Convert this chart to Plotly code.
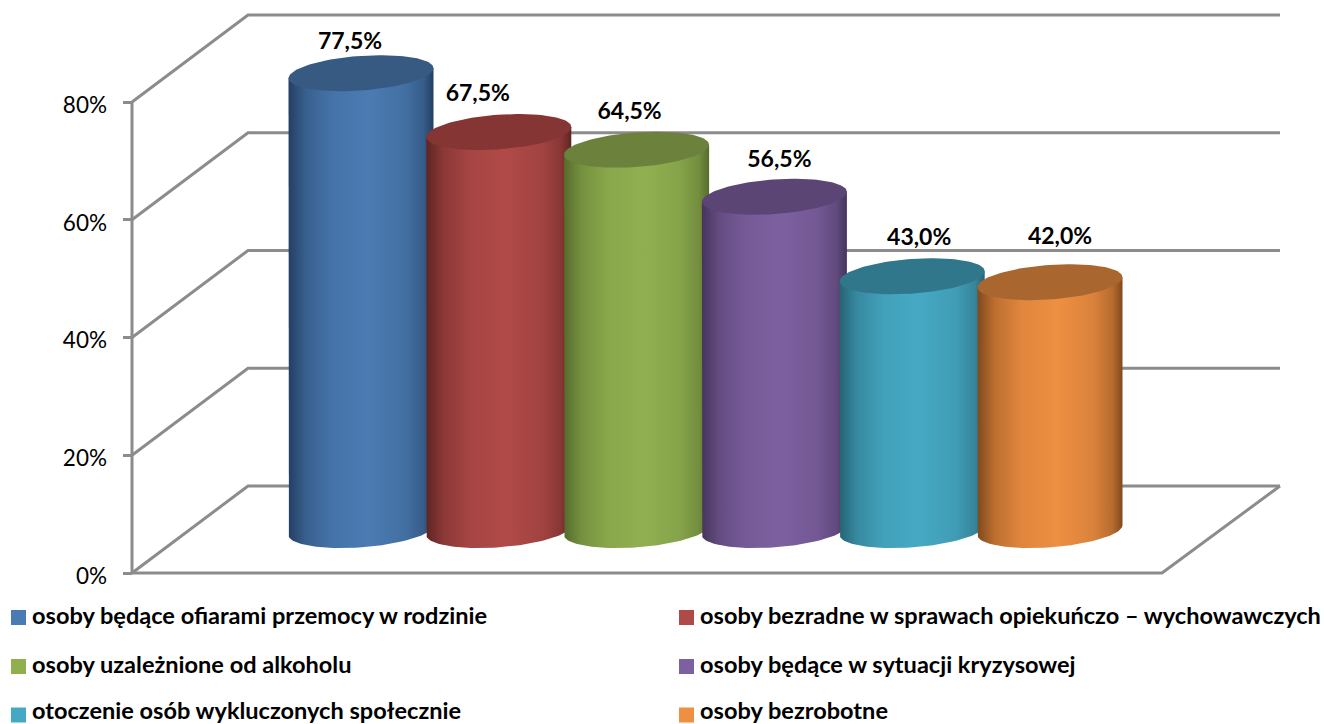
import numpy as np
import plotly.graph_objects as go

# ---- data ----
categories = ["osoby będące ofiarami przemocy w rodzinie",
              "osoby bezradne w sprawach opiekuńczo – wychowawczych",
              "osoby uzależnione od alkoholu",
              "osoby będące w sytuacji kryzysowej",
              "otoczenie osób wykluczonych społecznie",
              "osoby bezrobotne"]
values = [77.5, 67.5, 64.5, 56.5, 43.0, 42.0]
labels = ["77,5%", "67,5%", "64,5%", "56,5%", "43,0%", "42,0%"]
centre_colors = ["#4a7bb2", "#b04a48", "#90b050", "#7d60a0", "#46a9c4", "#ee8f42"]
edge_colors = ["#243f63", "#5f2523", "#566c2c", "#46345c", "#266475", "#80491d"]
top_colors = ["#375a82", "#843534", "#6b813c", "#5b4575", "#31778c", "#a9672f"]
tick_values = [0, 20, 40, 60, 80]
label_dx = [-11, -21, -7, 5, 7, 10]
label_dy = [12.5, 13.7, 13.6, 13.5, 13.7, 14.9]

# ---- layout constants (pixels of the 1324x724 page) ----
W, H = 1324, 724
ZERO_PX, PX_PER_PCT = 573.0, 5.8875
GRID = "#8c8c8c"
FONT = "Lato"
LEFT, FRONT_RIGHT, BACK_LEFT, BACK_RIGHT = 132, 1162, 248, 1280
DEPTH = 87 / PX_PER_PCT
CX0, PITCH, A = 361.0, 137.8, 72.5
B, K = 17.3 / PX_PER_PCT, 5.0 / PX_PER_PCT
TOP_OFF, BASE_OFF = 7.4, 7.3
Y_LO, Y_HI = (ZERO_PX - H) / PX_PER_PCT, ZERO_PX / PX_PER_PCT
LABEL_DROP = 3 / PX_PER_PCT


def hex2rgb(h):
    return np.array([int(h[i:i + 2], 16) for i in (1, 3, 5)], float)


def mix(c1, c2, f):
    r = hex2rgb(c1) * (1 - f) + hex2rgb(c2) * f
    return "rgb(%d,%d,%d)" % tuple(r)


fig = go.Figure()


def line(xs, ys):
    fig.add_trace(go.Scatter(x=xs, y=ys, mode="lines", line=dict(color=GRID, width=3),
                             hoverinfo="skip", showlegend=False, cliponaxis=False))


# walls
for t in tick_values:
    line([LEFT, BACK_LEFT, BACK_RIGHT], [t, t + DEPTH, t + DEPTH])
line([LEFT, LEFT], [0, tick_values[-1]])
line([LEFT, FRONT_RIGHT, BACK_RIGHT], [0, 0, DEPTH])

# keeps the label-carrying axis alive
fig.add_trace(go.Scatter(x=[LEFT], y=[0], yaxis="y2", mode="lines", hoverinfo="skip",
                         showlegend=False))

# cylinders
for i, v in enumerate(values):
    cx = CX0 + i * PITCH
    ct = np.linspace(np.pi, 0, 60)
    bx = cx + A * np.cos(ct)
    by = BASE_OFF + K * np.cos(ct) - B * np.sin(ct)
    top = v + TOP_OFF
    xs = np.concatenate([[cx - A], bx, [cx + A]])
    ys = np.concatenate([[top - K], by, [top + K]])
    c, e = centre_colors[i], edge_colors[i]
    fig.add_trace(go.Scatter(
        x=xs, y=ys, mode="lines", fill="toself", line=dict(width=0),
        fillgradient=dict(type="horizontal", start=cx - A, stop=cx + A,
                          colorscale=[[0, mix(e, c, 0)], [0.12, mix(e, c, 0.55)],
                                      [0.3, mix(e, c, 0.88)], [0.55, c],
                                      [0.8, mix(e, c, 0.82)], [0.93, mix(e, c, 0.5)],
                                      [1, mix(e, c, 0)]]),
        name=categories[i], hoverinfo="skip", showlegend=False))
    tt = np.linspace(0, 2 * np.pi, 120)
    fig.add_trace(go.Scatter(
        x=cx + A * np.cos(tt), y=top + K * np.cos(tt) + B * np.sin(tt), mode="lines",
        fill="toself", fillcolor=top_colors[i], line=dict(width=0),
        hoverinfo="skip", showlegend=False))

# value labels
fig.add_trace(go.Scatter(
    x=[CX0 + i * PITCH + label_dx[i] for i in range(len(values))],
    y=[v + d for v, d in zip(values, label_dy)],
    text=labels, mode="text", textposition="middle center",
    textfont=dict(family=FONT, size=23, color="#000000", weight="bold"),
    hoverinfo="skip", showlegend=False, cliponaxis=False))

# legend
legend_x = [18.5, 686.5]
legend_rows_px = [617.5, 666.5, 715.0]
legend_text_px = [618.5, 667.5, 713.5]
for i, name in enumerate(categories):
    lx = legend_x[i % 2]
    fig.add_trace(go.Scatter(
        x=[lx], y=[(ZERO_PX - legend_rows_px[i // 2]) / PX_PER_PCT], mode="markers",
        marker=dict(symbol="square", size=15, color=centre_colors[i], line=dict(width=0)),
        hoverinfo="skip", showlegend=False, cliponaxis=False))
    fig.add_trace(go.Scatter(
        x=[lx + 13.5], y=[(ZERO_PX - legend_text_px[i // 2]) / PX_PER_PCT], mode="text",
        text=[name], textposition="middle right",
        textfont=dict(family=FONT, size=23.55, color="#000000", weight="bold"),
        hoverinfo="skip", showlegend=False, cliponaxis=False))

fig.update_layout(
    width=W, height=H, autosize=False,
    margin=dict(l=0, r=0, t=0, b=0), paper_bgcolor="white", plot_bgcolor="white",
    showlegend=False,
    xaxis=dict(range=[0, W], visible=False, fixedrange=True),
    yaxis=dict(range=[Y_LO, Y_HI],
               anchor="free", position=LEFT / W, showgrid=False, zeroline=False, showline=False,
               tickmode="array", tickvals=tick_values, showticklabels=False,
               ticks="outside", ticklen=9, tickwidth=3, tickcolor=GRID,
               fixedrange=True),
    yaxis2=dict(range=[Y_LO + LABEL_DROP, Y_HI + LABEL_DROP], overlaying="y",
                anchor="free", position=LEFT / W, side="left",
                showgrid=False, zeroline=False, showline=False,
                tickmode="array", tickvals=tick_values, ticktext=[f"{t}%" for t in tick_values],
                ticks="", tickfont=dict(family=FONT, size=22.5, color="#000000"),
                ticklabelstandoff=25, fixedrange=True),
)
fig.write_html("out.html", config=dict(displayModeBar=False),
               post_script="document.body.style.margin='0';document.documentElement.style.overflow='hidden';")
